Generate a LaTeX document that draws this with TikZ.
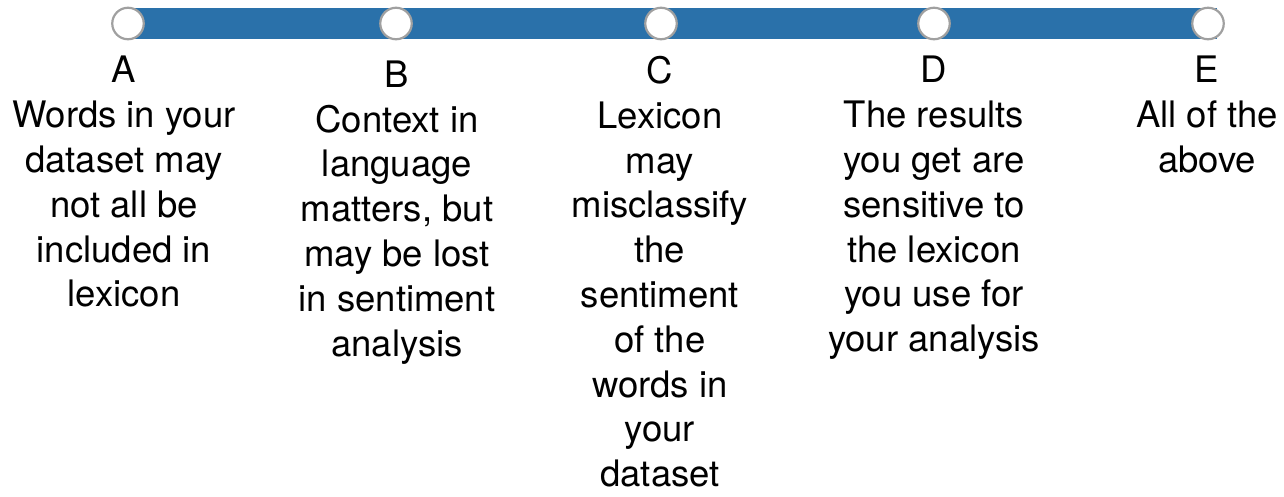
\documentclass[tikz,border=0pt]{standalone}
\usepackage{fontspec}
\setmainfont{TeX Gyre Heros}
\definecolor{barblue}{RGB}{42,113,170}
\definecolor{ringgray}{RGB}{160,160,160}
\begin{document}
\begin{tikzpicture}[x = 1pt, y = -1pt,
    stop/.style = {circle, fill = white, draw = ringgray, line width = 2.2pt,
                   inner sep = 0pt, minimum size = 31.5pt},
    answer/.style = {anchor = north, align = center, inner sep = 0pt,
                     font = \fontsize{36.5}{44.8}\selectfont}]
      \useasboundingbox (0,0) rectangle (1284,496);
      \coordinate (barstart) at (121,23.5);
      \coordinate (barend) at (1217,23.5);
      \draw [barblue, line width = 31pt] (barstart) -- (barend);
      \node [stop] (a) at (128,23.5) {};
      \node [stop] (b) at (396,23.5) {};
      \node [stop] (c) at (661,23.5) {};
      \node [stop] (d) at (934,23.5) {};
      \node [stop] (e) at (1208,23.5) {};
      \node [answer] (lbla) at (124,56)
        {A\\Words in your\\dataset may\\not all be\\included in\\lexicon};
      \node [answer] (lblb) at (397,60.5)
        {B\\Context in\\language\\matters, but\\may be lost\\in sentiment\\analysis};
      \node [answer] (lblc) at (660,56)
        {C\\Lexicon\\may\\misclassify\\the\\sentiment\\of the\\words in\\your\\dataset};
      \node [answer] (lbld) at (934,56)
        {D\\The results\\you get are\\sensitive to\\the lexicon\\you use for\\your analysis};
      \node [answer] (lble) at (1207,56)
        {E\\All of the\\above};
    \end{tikzpicture}
\end{document}
